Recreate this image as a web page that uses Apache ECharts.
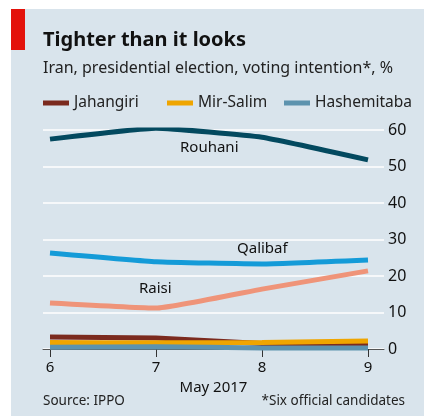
<!DOCTYPE html>
<html><head><meta charset="utf-8">
<script src="https://cdn.jsdelivr.net/npm/echarts@6/dist/echarts.min.js"></script>
<style>html,body{margin:0;padding:0;background:#fff}#c{width:424px;height:416px}</style>
</head><body><div id="c"></div>
<script>
const days = [6, 7, 8, 9];
const xTicks = [6, 7, 8, 9];
const yTicks = [0, 10, 20, 30, 40, 50, 60];
const rouhani = [57.5, 60.5, 58, 51.8];
const qalibaf = [26.3, 23.9, 23.3, 24.4];
const raisi = [12.6, 11.2, 16.4, 21.4];
const jahangiri = [3.3, 3.0, 1.5, 1.2];
const mirSalim = [1.8, 1.7, 1.8, 2.2];
const hashemitaba = [0.5, 0.6, 0.3, 0.3];

const FONT = '"Noto Sans", sans-serif';
const chart = echarts.init(document.getElementById('c'), null, {renderer: 'canvas'});
function mk(name, vals, color, z) {
  return {
    name: name, type: 'line', data: days.map((d, i) => [d, vals[i]]),
    symbol: 'none', smooth: 0.12, z: z,
    lineStyle: {color: color, width: 5, cap: 'butt'},
    itemStyle: {color: color}
  };
}
function leg(name, left) {
  return {
    top: 95, left: left, itemWidth: 26, itemHeight: 5, itemGap: 5, padding: 0,
    icon: 'rect', data: [name],
    textStyle: {fontFamily: FONT, fontSize: 15.5, color: '#222', padding: [0, 0, 0, 0]}
  };
}
chart.setOption({
  backgroundColor: '#ffffff',
  animation: false,
  graphic: [
    {type: 'rect', shape: {x: 11, y: 9, width: 413, height: 407}, style: {fill: '#d9e4ec'}, z: -10},
    {type: 'rect', shape: {x: 11, y: 9, width: 14, height: 41}, style: {fill: '#e3120b'}, z: -9},
    {type: 'text', left: 43, top: 30, style: {text: 'Tighter than it looks', font: 'bold 20px ' + FONT, fill: '#111'}},
    {type: 'text', left: 43, top: 60, style: {text: 'Iran, presidential election, voting intention*, %', font: '16px ' + FONT, fill: '#222'}},
    {type: 'text', left: 43, top: 394, style: {text: 'Source: IPPO', font: '13.5px ' + FONT, fill: '#222'}},
    {type: 'text', right: 19, top: 394, style: {text: '*Six official candidates', font: '13.5px ' + FONT, fill: '#222', align: 'right'}},
    {type: 'text', left: 180, top: 140, style: {text: 'Rouhani', font: '15px ' + FONT, fill: '#111'}},
    {type: 'text', left: 237, top: 241, style: {text: 'Qalibaf', font: '15px ' + FONT, fill: '#111'}},
    {type: 'text', left: 139, top: 281, style: {text: 'Raisi', font: '15px ' + FONT, fill: '#111'}}
  ],
  legend: [leg('Jahangiri', 43), leg('Mir-Salim', 167), leg('Hashemitaba', 284)],
  grid: {left: 43, right: 40, top: 130, bottom: 67, containLabel: false},
  xAxis: {
    type: 'value', min: 5.934, max: 9.151,
    axisLine: {show: true, lineStyle: {color: '#555', width: 1}},
    axisTick: {show: true, customValues: xTicks, length: 8, lineStyle: {color: '#333', width: 1}},
    axisLabel: {customValues: xTicks, fontFamily: FONT, fontSize: 15, color: '#111', margin: 11},
    splitLine: {show: false},
    name: 'May 2017', nameLocation: 'middle', nameGap: 22,
    nameTextStyle: {fontFamily: FONT, fontSize: 15, color: '#111'}
  },
  yAxis: {
    type: 'value', min: 0, max: 60, interval: 10, position: 'right',
    axisLine: {show: false},
    axisTick: {show: false},
    axisLabel: {fontFamily: FONT, fontSize: 16, color: '#111', margin: 4,
      customValues: yTicks},
    splitLine: {show: true, lineStyle: {color: '#ffffff', width: 1.5}}
  },
  series: [
    mk('Rouhani', rouhani, '#03495f', 5),
    mk('Qalibaf', qalibaf, '#149bd8', 5),
    mk('Raisi', raisi, '#ef9479', 5),
    mk('Jahangiri', jahangiri, '#7b2a1e', 6),
    mk('Mir-Salim', mirSalim, '#efa500', 7),
    mk('Hashemitaba', hashemitaba, '#5d93ae', 8)
  ]
});
</script></body></html>
